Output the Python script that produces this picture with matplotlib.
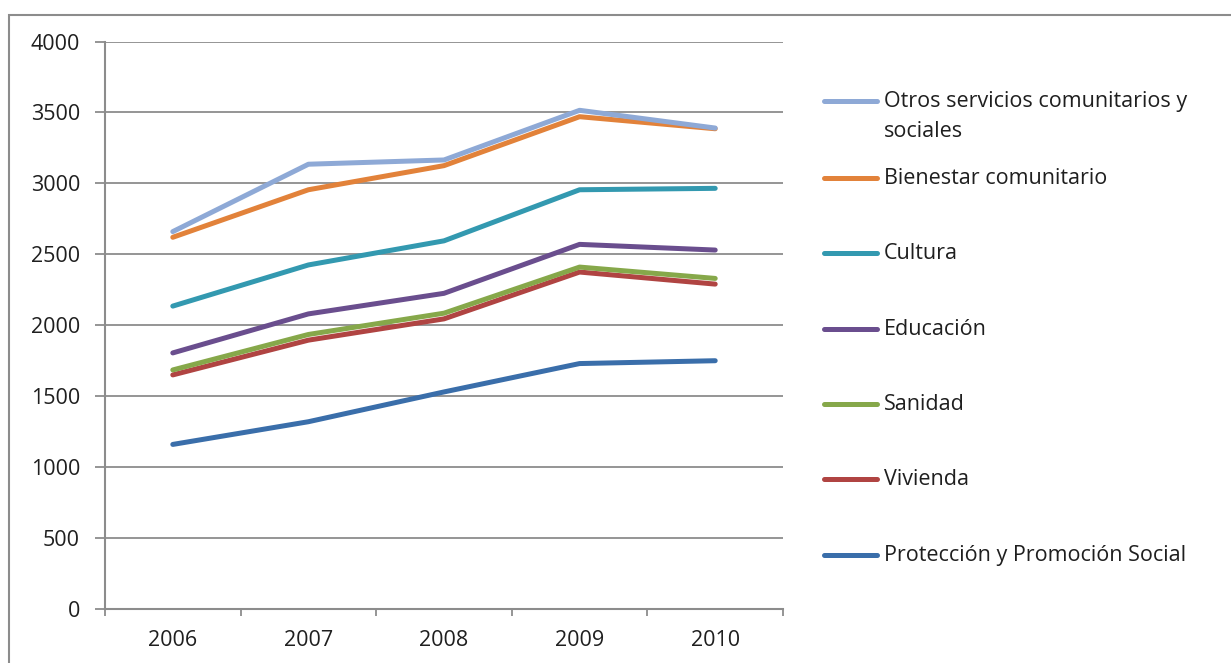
import numpy as np
import matplotlib
matplotlib.use("Agg")
import matplotlib.pyplot as plt
from matplotlib.lines import Line2D
from matplotlib.patches import Rectangle

plt.rcParams['font.family'] = ['Open Sans', 'DejaVu Sans']

years = ['2006', '2007', '2008', '2009', '2010']

series_names = [
    'Otros servicios comunitarios y\nsociales',
    'Bienestar comunitario',
    'Cultura',
    'Educación',
    'Sanidad',
    'Vivienda',
    'Protección y Promoción Social',
]
otros = [2660, 3135, 3165, 3515, 3390]
bienestar = [2620, 2955, 3125, 3470, 3385]
cultura = [2135, 2425, 2595, 2955, 2965]
educacion = [1805, 2080, 2225, 2570, 2530]
sanidad = [1685, 1935, 2085, 2410, 2330]
vivienda = [1650, 1895, 2045, 2375, 2290]
proteccion = [1160, 1320, 1530, 1730, 1750]

colors = ['#8EA9D6', '#E2823A', '#3399B0', '#6A4E8E', '#86A84A', '#B04442', '#3A6EAA']
values = [otros, bienestar, cultura, educacion, sanidad, vivienda, proteccion]

W, H = 1231, 663
fig = plt.figure(figsize=(W / 100, H / 100), dpi=100)
ax = fig.add_axes([105 / W, 1 - 609 / H, (783 - 105) / W, (609 - 41.5) / H])

grid_c = '#8C8C8C'
txt_c = '#1f1f1f'
fs = 15.5
x = np.arange(len(years))
# draw bottom series first so the top ones sit over them
for name, vals, c in reversed(list(zip(series_names, values, colors))):
    ax.plot(x, vals, color=c, lw=3.6, solid_capstyle='round', solid_joinstyle='round', zorder=3)

ax.set_xlim(-0.5, len(years) - 0.5)
ax.set_ylim(0, 4000)
ax.set_yticks(np.arange(0, 4001, 500))
ax.yaxis.grid(True, color=grid_c, lw=1.3)
ax.set_axisbelow(True)

ax.set_xticks(np.arange(-0.5, len(years), 1.0))
ax.set_xticklabels([])
ax.set_xticks(x, minor=True)
ax.set_xticklabels(years, minor=True)
ax.tick_params(axis='x', which='major', direction='out', length=5, width=1.3, color=grid_c)
ax.tick_params(axis='x', which='minor', length=0, pad=15, labelsize=fs, labelcolor=txt_c)
ax.tick_params(axis='y', direction='out', length=7, width=1.3, color=grid_c, pad=11,
               labelsize=fs, labelcolor=txt_c)

for s in ['top', 'right']:
    ax.spines[s].set_visible(False)
for s in ['left', 'bottom']:
    ax.spines[s].set_color(grid_c)
    ax.spines[s].set_linewidth(1.5)

# legend drawn by hand to keep the Excel look
leg_y = [101, 178, 253, 329, 404, 479, 555]
for name, c, yy in zip(series_names, colors, leg_y):
    fy = 1 - yy / H
    fig.add_artist(Line2D([824 / W, 877 / W], [fy, fy], color=c, lw=3.6,
                          solid_capstyle='round', transform=fig.transFigure))
    fig.text(884 / W, fy + 10 / H, name, ha='left', va='top', fontsize=fs,
             color=txt_c, linespacing=1.55)

# outer frame (cut off at right and bottom like the source)
fig.add_artist(Rectangle((9 / W, -0.1), 1.2, 1 - 15 / H + 0.1, transform=fig.transFigure,
                         fill=False, edgecolor='#8C8C8C', lw=1.5))

fig.savefig('out.png', dpi=100)
